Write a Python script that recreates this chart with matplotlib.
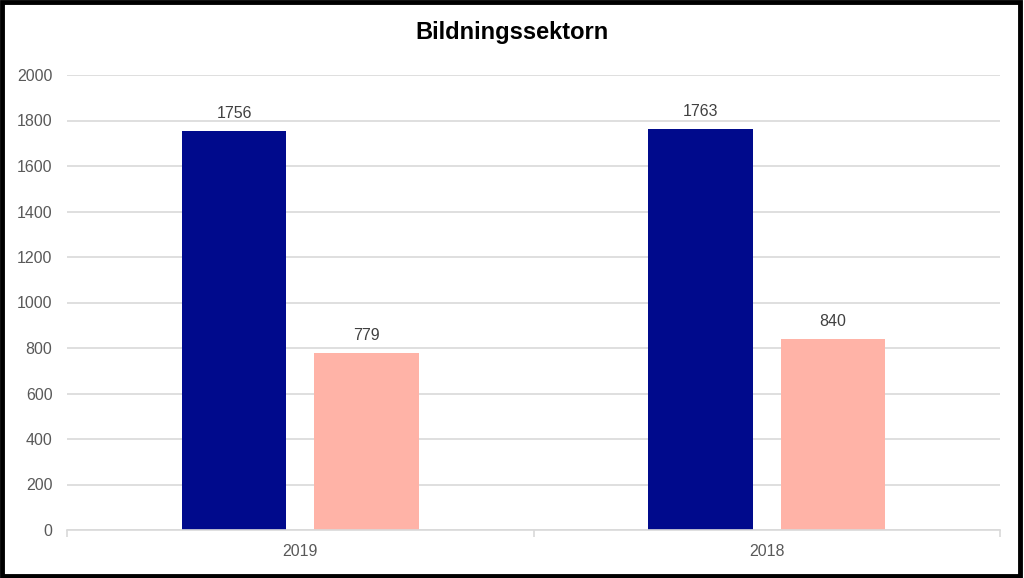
import matplotlib
matplotlib.use("Agg")
import matplotlib.pyplot as plt
from matplotlib.patches import Rectangle
import numpy as np

categories = ["2019", "2018"]
series_a = [1756, 1763]
series_b = [779, 840]
yticks = [0, 200, 400, 600, 800, 1000, 1200, 1400, 1600, 1800, 2000]
title = "Bildningssektorn"

plt.rcParams['font.family'] = ['Liberation Sans', 'DejaVu Sans']

fig = plt.figure(figsize=(10.24, 5.78), dpi=100)
ax = fig.add_axes([67/1024, 1 - 530/578, (1000-67)/1024, (530-75)/578])

x = np.arange(len(categories))
w = 0.225
off = 0.142
navy = "#000A8C"
salmon = "#FFB3A7"
b1 = ax.bar(x - off, series_a, w, color=navy)
b2 = ax.bar(x + off, series_b, w, color=salmon)
for bars, vals in ((b1, series_a), (b2, series_b)):
    for r, v in zip(bars, vals):
        ax.annotate(str(v), (r.get_x() + r.get_width()/2, v), xytext=(0, 7),
                    textcoords="offset points", ha="center", va="bottom",
                    fontsize=11.5, color="#404040")

ax.set_xlim(-0.5, 1.5)
ax.set_ylim(0, 2000)
ax.set_yticks(yticks)
ax.set_yticklabels([str(t) for t in yticks])
ax.yaxis.grid(True, color="#D9D9D9", linewidth=1.2)
ax.set_axisbelow(True)
ax.tick_params(axis='y', length=0, labelsize=11.5, labelcolor="#595959", pad=10.5)
ax.set_xticks(x)
ax.set_xticklabels(categories)
ax.tick_params(axis='x', length=0, labelsize=11.5, labelcolor="#595959", pad=10)
ax.set_xticks([-0.5, 0.5, 1.5], minor=True)
ax.tick_params(axis='x', which='minor', length=5, color="#D9D9D9", width=1.2)
for s in ("top", "right", "left"):
    ax.spines[s].set_visible(False)
ax.spines["bottom"].set_color("#D9D9D9")
ax.spines["bottom"].set_linewidth(1.2)

fig.text(0.5, 1 - 33/578, title, ha="center", va="center", fontsize=17,
         fontweight="bold", color="black")

fig.patches.append(Rectangle((0.002, 0.003), 0.994, 0.993, transform=fig.transFigure,
                             fill=False, edgecolor="black", linewidth=3.5))

fig.savefig("out.png", dpi=100)
